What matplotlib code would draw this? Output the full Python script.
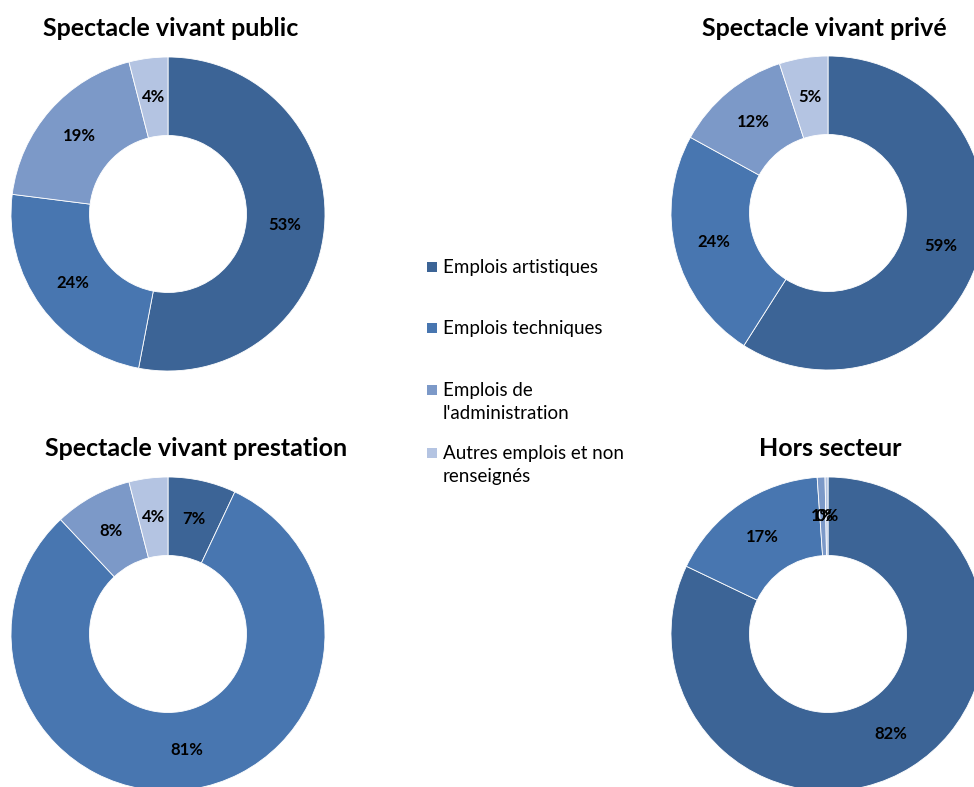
import matplotlib.pyplot as plt
from matplotlib.patches import Rectangle

plt.rcParams['font.family'] = ['Lato', 'DejaVu Sans']

categories = ["Emplois artistiques", "Emplois techniques",
              "Emplois de\nl'administration", "Autres emplois et non\nrenseignés"]
colors = ["#3C6496", "#4876B0", "#7C99C8", "#B4C4E2"]

titles = ["Spectacle vivant public", "Spectacle vivant privé",
          "Spectacle vivant prestation", "Hors secteur"]
public = [53, 24, 19, 4]
prive = [59, 24, 12, 5]
prestation = [7, 81, 8, 4]
hors_secteur = [82.1, 16.8, 0.8, 0.3]
all_values = [public, prive, prestation, hors_secteur]

W, H = 974, 787
fig = plt.figure(figsize=(W / 100, H / 100), dpi=100)

# pie centres in pixels (top-left origin), radius, title position
centres = [(168, 214), (828, 213), (168, 634), (828, 634)]
R = 157
title_pos = [(171, 29), (824, 29), (196, 449), (830, 449)]

for (cx, cy), vals, title, (tx, ty) in zip(centres, all_values, titles, title_pos):
    ax = fig.add_axes([(cx - R) / W, 1 - (cy + R) / H, 2 * R / W, 2 * R / H])
    ax.pie(vals, colors=colors, startangle=90, counterclock=False,
           radius=1, wedgeprops=dict(width=0.5, edgecolor='white', linewidth=0.6),
           autopct=lambda p: f"{p:.0f}%", pctdistance=0.75,
           textprops=dict(fontsize=12, fontweight='bold', color='black'))
    ax.set_xlim(-1, 1)
    ax.set_ylim(-1, 1)
    ax.set_aspect('equal')
    ax.axis('off')
    fig.text(tx / W, 1 - ty / H, title, ha='center', va='center',
             fontsize=18, fontweight='bold')

# legend
leg_y = [267, 328, 390, 453]
for lab, col, y in zip(categories, colors, leg_y):
    fig.patches.append(Rectangle((427 / W, 1 - (y + 5) / H), 10 / W, 10 / H,
                                 transform=fig.transFigure, facecolor=col,
                                 edgecolor='none'))
    fig.text(443 / W, 1 - (y - 8) / H, lab, ha='left', va='top',
             fontsize=13.5, linespacing=1.45)

fig.savefig("out.png", dpi=100)
